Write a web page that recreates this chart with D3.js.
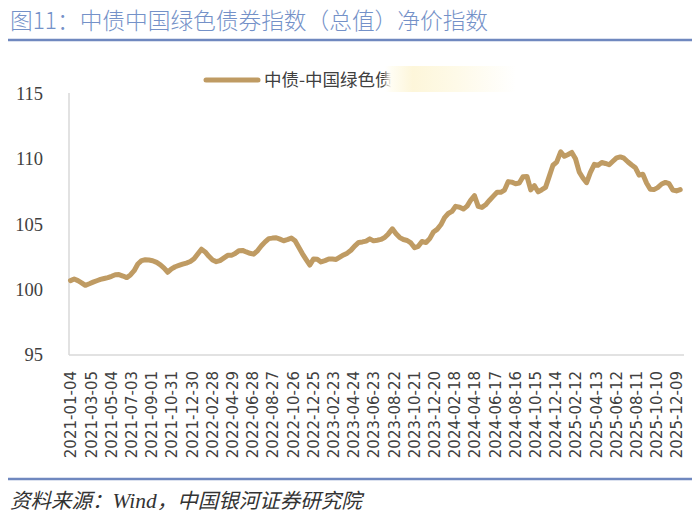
<!DOCTYPE html>
<html>
<head>
<meta charset="utf-8">
<script src="https://cdn.jsdelivr.net/npm/d3@7"></script>
<style>
  html, body { margin: 0; padding: 0; background: #fff; }
  svg { display: block; }
</style>
</head>
<body>
<svg id="chart"></svg>
<script>
// Chart size
const width = 698;
const height = 516;

// Tick labels on the date axis (every 60 days)
const tickLabels = [
  "2021-01-04", "2021-03-05", "2021-05-04", "2021-07-03", "2021-09-01", "2021-10-31",
  "2021-12-30", "2022-02-28", "2022-04-29", "2022-06-28", "2022-08-27", "2022-10-26",
  "2022-12-25", "2023-02-23", "2023-04-24", "2023-06-23", "2023-08-22", "2023-10-21",
  "2023-12-20", "2024-02-18", "2024-04-18", "2024-06-17", "2024-08-16", "2024-10-15",
  "2024-12-14", "2025-02-12", "2025-04-13", "2025-06-12", "2025-08-11", "2025-10-10",
  "2025-12-09"
];

const yTicks = [95, 100, 105, 110, 115];

// Net price index, every 11 days from 2021-01-04
const navValues = [
  100.69, 100.81, 100.69, 100.52, 100.33, 100.45,
  100.57, 100.68, 100.78, 100.85, 100.92, 101.02,
  101.14, 101.15, 101.04, 100.92, 101.12, 101.45,
  101.96, 102.22, 102.28, 102.26, 102.21, 102.08,
  101.90, 101.65, 101.33, 101.58, 101.75, 101.85,
  101.95, 102.03, 102.15, 102.36, 102.73, 103.09,
  102.88, 102.55, 102.27, 102.14, 102.22, 102.43,
  102.62, 102.62, 102.76, 102.98, 103.00, 102.88,
  102.78, 102.71, 102.99, 103.35, 103.65, 103.90,
  103.94, 103.97, 103.86, 103.74, 103.82, 103.94,
  103.74, 103.25, 102.74, 102.30, 101.88, 102.35,
  102.33, 102.12, 102.22, 102.34, 102.34, 102.31,
  102.48, 102.65, 102.79, 103.01, 103.33, 103.61,
  103.65, 103.71, 103.88, 103.73, 103.78, 103.84,
  103.98, 104.26, 104.65, 104.27, 103.98, 103.83,
  103.76, 103.57, 103.20, 103.31, 103.68, 103.60,
  103.90, 104.41, 104.61, 104.96, 105.51, 105.82,
  105.98, 106.37, 106.30, 106.16, 106.39, 106.85,
  107.18, 106.37, 106.29, 106.49, 106.82, 107.15,
  107.44, 107.44, 107.61, 108.26, 108.22, 108.10,
  108.15, 108.64, 108.65, 107.63, 107.95, 107.48,
  107.64, 107.82, 108.66, 109.51, 109.75, 110.53,
  110.20, 110.34, 110.49, 110.01, 109.00, 108.54,
  108.18, 108.95, 109.58, 109.51, 109.72, 109.65,
  109.55, 109.82, 110.08, 110.15, 110.05, 109.76,
  109.53, 109.32, 108.75, 108.83, 108.15, 107.68,
  107.65, 107.80, 108.08, 108.20, 108.10, 107.62,
  107.55, 107.65
];

const titleText = "图11：中债中国绿色债券指数（总值）净价指数";
const seriesName = "中债-中国绿色债券指数（总值）净价指数";

const lineColor = "#bf9b63";
const blue = "#6f88bf";

const parse = d3.timeParse("%Y-%m-%d");
const tickDates = tickLabels.map(parse);
const start = tickDates[0];
const data = navValues.map((v, k) => ({
  date: d3.timeDay.offset(start, Math.round(k * 100 / 9)),
  value: v
}));

const svg = d3.select("#chart")
  .attr("width", width)
  .attr("height", height)
  .style("font-family", "'Noto Sans CJK SC', sans-serif");

// Title and rule
svg.append("text")
  .attr("x", 10)
  .attr("y", 29)
  .attr("fill", "#7491c8")
  .style("font-size", "22.7px")
  .style("font-weight", 300)
  .text(titleText);

svg.append("line")
  .attr("x1", 8).attr("x2", 692)
  .attr("y1", 40).attr("y2", 40)
  .attr("stroke", blue)
  .attr("stroke-width", 2.5);

// Scales
const plot = { left: 70.5, right: 676.5, top: 93.5, bottom: 355 };

const x = d3.scaleTime()
  .domain([tickDates[0], tickDates[tickDates.length - 1]])
  .range([plot.left, plot.right]);

const y = d3.scaleLinear()
  .domain([95, 115])
  .range([plot.bottom, plot.top]);

// Axes
const yAxis = svg.append("g")
  .attr("transform", `translate(69,0)`)
  .call(d3.axisLeft(y).tickValues(yTicks).tickSize(0).tickPadding(26));
yAxis.select(".domain")
  .attr("d", `M0,${plot.top - 0.5}V${plot.bottom}`)
  .attr("stroke", "#d9d9d9")
  .attr("stroke-width", 1.5);
yAxis.selectAll("text")
  .attr("fill", "#404040")
  .style("font-family", "'Liberation Serif', serif")
  .style("font-size", "18.5px");

const xAxis = svg.append("g")
  .attr("transform", `translate(0,${plot.bottom})`)
  .call(d3.axisBottom(x)
    .tickValues(tickDates)
    .tickFormat(d3.timeFormat("%Y-%m-%d"))
    .tickSize(0));
xAxis.select(".domain")
  .attr("d", `M69,0H684`)
  .attr("stroke", "#d9d9d9")
  .attr("stroke-width", 1.5);
xAxis.selectAll("text")
  .attr("fill", "#404040")
  .style("font-family", "'DejaVu Sans', sans-serif")
  .style("font-size", "15px")
  .attr("text-anchor", "end")
  .attr("transform", "rotate(-90)")
  .attr("x", -16)
  .attr("y", 0)
  .attr("dy", "0.36em");

// Series line
const line = d3.line()
  .x(d => x(d.date))
  .y(d => y(d.value));

svg.append("path")
  .datum(data)
  .attr("fill", "none")
  .attr("stroke", lineColor)
  .attr("stroke-width", 5)
  .attr("stroke-linejoin", "round")
  .attr("stroke-linecap", "round")
  .attr("d", line);

// Legend (the name fades out under a pale band, as in the source)
const legend = svg.append("g");
legend.append("line")
  .attr("x1", 206).attr("x2", 258)
  .attr("y1", 80).attr("y2", 80)
  .attr("stroke", lineColor)
  .attr("stroke-width", 5)
  .attr("stroke-linecap", "round");
legend.append("text")
  .attr("x", 264)
  .attr("y", 86)
  .attr("fill", "#404040")
  .style("font-size", "17.5px")
  .text(seriesName);

const fade = svg.append("defs").append("linearGradient")
  .attr("id", "legend-fade")
  .attr("x1", "0%").attr("x2", "100%");
[
  [0, "#ffffff", 0.2],
  [0.03, "#fffdf3", 1],
  [0.12, "#fdf6da", 1],
  [0.3, "#fefae8", 1],
  [0.55, "#ffffff", 1],
  [1, "#ffffff", 1]
].forEach(([o, c, a]) => {
  fade.append("stop")
    .attr("offset", o)
    .attr("stop-color", c)
    .attr("stop-opacity", a);
});
legend.append("rect")
  .attr("x", 384)
  .attr("y", 66)
  .attr("width", 240)
  .attr("height", 26)
  .attr("fill", "url(#legend-fade)");

// Source note and rule
svg.append("line")
  .attr("x1", 8).attr("x2", 692)
  .attr("y1", 479).attr("y2", 479)
  .attr("stroke", blue)
  .attr("stroke-width", 2.5);

const note = svg.append("text")
  .attr("x", 10)
  .attr("y", 508)
  .attr("fill", "#333")
  .style("font-size", "20.5px")
  .style("font-style", "italic");
note.append("tspan").text("资料来源：");
note.append("tspan")
  .style("font-family", "'Liberation Serif', serif")
  .style("font-size", "21.5px")
  .text("Wind");
note.append("tspan").text("，中国银河证券研究院");
</script>
</body>
</html>
